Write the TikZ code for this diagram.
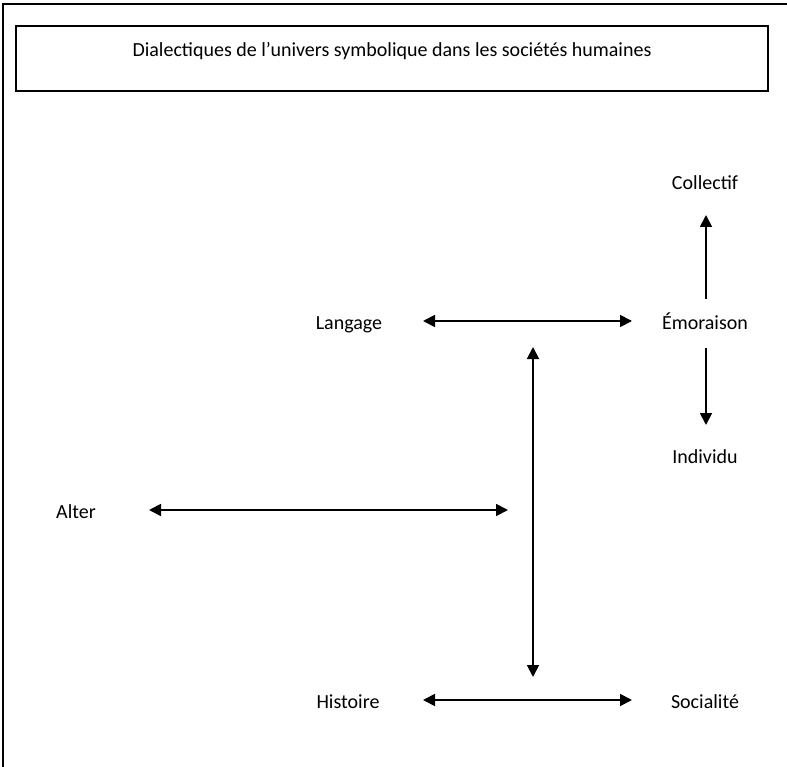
\documentclass[tikz,border=0pt]{standalone}
\usepackage{fontspec}
\setmainfont{Carlito}
\usetikzlibrary{arrows.meta}

\begin{document}
\begin{tikzpicture}[x=1pt, y=-1pt,
    mot/.style={font=\fontsize{20}{24}\selectfont, inner sep=0pt, text height=13pt, text depth=4pt},
    fleche/.style={line width=1.8pt, {Triangle[length=12pt,width=12pt]}-{Triangle[length=12pt,width=12pt]}},
    simple/.style={line width=1.8pt, -{Triangle[length=12pt,width=12pt]}}]
    \useasboundingbox (0,0) rectangle (787,767);

    % Outer frame (right and bottom edges fall outside the page)
    \draw[line width=1.8pt] (3,790) |- (800,4);

    % Title box
    \node[draw, line width=1.8pt, minimum width=752pt, minimum height=65pt, inner sep=0pt] (cadre) at (392,58.5) {};
    \node[mot] (titre) at ([yshift=6pt]cadre.center) {Dialectiques de l’univers symbolique dans les sociétés humaines};

    % Terms
    \node[mot] (coll) at (705,185.5) {Collectif};
    \node[mot] (emo) at (705,324.5) {Émoraison};
    \node[mot] (indiv) at (705,458.5) {Individu};
    \node[mot] (lang) at (349,324.5) {Langage};
    \node[mot] (alter) at (76,513.5) {Alter};
    \node[mot] (hist) at (348,703.5) {Histoire};
    \node[mot] (soc) at (705,703.5) {Socialité};

    % Free ends
    \coordinate (haut) at (533,347);
    \coordinate (bas) at (533,677);
    \coordinate (fin) at (508,510);

    % Double arrows
    \draw[fleche, shorten <=74pt, shorten >=73pt] ([yshift=3.5pt]lang.center) -- ([yshift=3.5pt]emo.center);
    \draw[fleche, shorten <=75pt, shorten >=73pt] ([yshift=3.5pt]hist.center) -- ([yshift=3.5pt]soc.center);
    \draw[fleche, shorten <=73pt] ([yshift=3.5pt]alter.center) -- (fin);
    \draw[fleche] (haut) -- (bas);

    % Single arrows from Emoraison
    \draw[simple, shorten <=25.5pt, shorten >=29.5pt] ([xshift=1pt]emo.center) -- ([xshift=1pt]coll.center);
    \draw[simple, shorten <=23.5pt, shorten >=33.5pt] ([xshift=1pt]emo.center) -- ([xshift=1pt]indiv.center);
\end{tikzpicture}
\end{document}
